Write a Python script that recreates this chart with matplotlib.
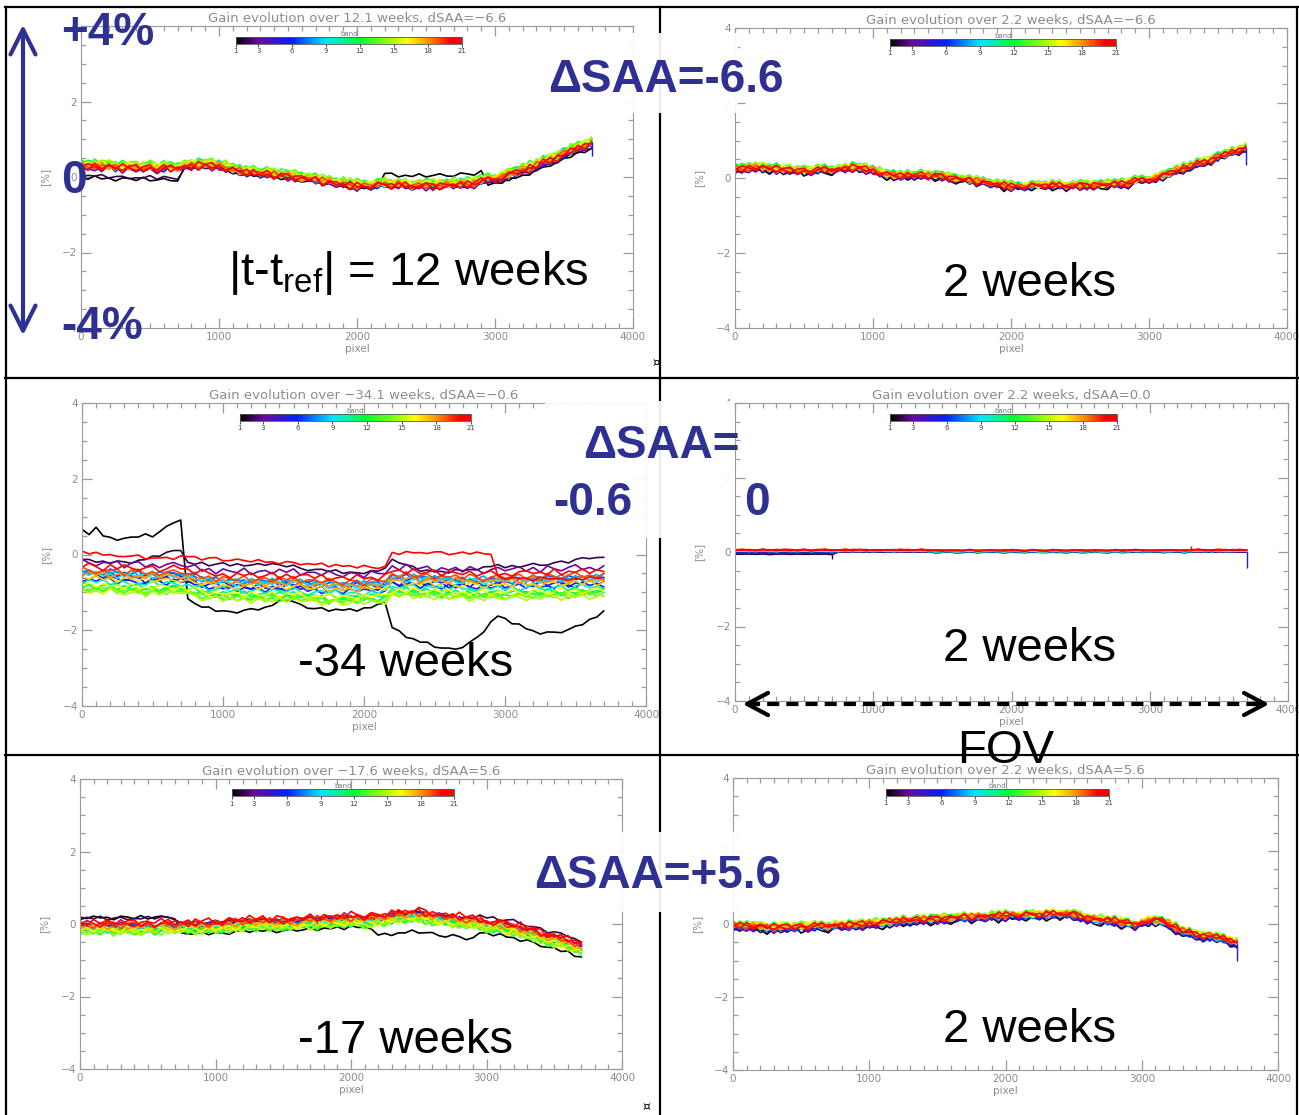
import numpy as np
import matplotlib.pyplot as plt
from matplotlib.colors import LinearSegmentedColormap, Normalize
from matplotlib.cm import ScalarMappable
from matplotlib.lines import Line2D
from matplotlib.patches import Rectangle, FancyArrowPatch
from matplotlib.ticker import MultipleLocator

plt.rcParams["font.family"] = ["DejaVu Sans"]
plt.rcParams["mathtext.fontset"] = "custom"
plt.rcParams["mathtext.rm"] = "Liberation Sans"

W, H = 1299, 1115

# detector pixel grid, one sample every 50 pixels
pixel = np.arange(0, 3701, 50)
bands = list(range(1, 22))
band_ticks = [1, 3, 6, 9, 12, 15, 18, 21]
segment_edges = [0, 750, 2200, 2950, 3750]

# small-scale pixel-to-pixel wiggle patterns (in units of the noise amplitude)
jitter_a = [0.3, -0.5, 0.8, -0.2, 0.1, -0.9, 0.6, 0.2, -0.4, 0.9, -0.7, 0.0, 0.5, -0.3, -0.8,
            0.7, 0.1, -0.2, 0.9, -0.6, 0.3, -0.1, -0.9, 0.4, 0.8, -0.5, 0.2, -0.3, 0.6, -0.8,
            0.1, 0.7, -0.4, 0.0, 0.9, -0.7, 0.3, -0.2, 0.5, -0.9, 0.8, -0.1, 0.2, -0.6, 0.4,
            0.7, -0.8, 0.1, -0.3, 0.9, -0.5, 0.0, 0.6, -0.4, -0.7, 0.8, 0.2, -0.9, 0.5, -0.1,
            0.3, -0.6, 0.9, -0.2, 0.1, -0.8, 0.7, 0.4, -0.5, 0.0, 0.6, -0.3, 0.8, -0.7, 0.2]
jitter_b = [-0.6, 0.4, -0.1, 0.9, -0.8, 0.2, 0.5, -0.7, 0.0, -0.3, 0.8, -0.5, 0.6, 0.1, -0.9,
            0.3, -0.2, 0.7, -0.6, -0.1, 0.9, -0.4, 0.5, -0.8, 0.0, 0.6, -0.7, 0.4, 0.2, -0.5,
            0.8, -0.3, -0.9, 0.1, 0.6, -0.2, 0.9, -0.6, 0.3, 0.0, -0.7, 0.5, -0.4, 0.8, -0.1,
            -0.5, 0.2, 0.7, -0.9, 0.4, -0.1, 0.3, -0.8, 0.9, -0.2, 0.1, -0.6, 0.5, 0.0, 0.7,
            -0.4, 0.6, -0.8, 0.2, 0.9, -0.3, -0.6, 0.1, 0.5, -0.9, 0.4, 0.7, -0.2, 0.0, -0.5]
jitter_c = [0.9, -0.2, -0.7, 0.4, 0.0, 0.6, -0.9, 0.3, 0.7, -0.5, 0.1, -0.8, 0.2, 0.5, -0.4,
            -0.1, 0.8, -0.6, 0.3, -0.9, 0.5, 0.0, -0.3, 0.9, -0.7, 0.2, 0.4, -0.5, 0.8, -0.2,
            0.6, -0.8, 0.1, 0.3, -0.4, 0.9, -0.1, -0.6, 0.5, 0.2, -0.9, 0.7, 0.0, -0.3, 0.4,
            -0.7, 0.9, -0.4, 0.1, 0.6, -0.8, 0.3, -0.2, 0.5, -0.6, 0.8, 0.0, -0.9, 0.2, 0.6,
            -0.3, 0.1, 0.7, -0.5, 0.4, -0.9, 0.8, -0.1, -0.6, 0.3, 0.9, -0.4, 0.2, -0.7, 0.5]
jitter_d = [-0.2, 0.7, 0.1, -0.8, 0.5, -0.4, 0.9, -0.1, -0.6, 0.3, 0.6, -0.9, 0.0, 0.8, -0.3,
            0.4, -0.7, 0.9, 0.1, -0.5, 0.2, -0.8, 0.6, -0.1, 0.7, -0.4, 0.0, 0.9, -0.6, 0.3,
            -0.9, 0.2, 0.5, -0.3, 0.8, -0.7, 0.0, 0.4, -0.5, 0.9, -0.2, 0.1, -0.8, 0.6, -0.1,
            0.3, -0.6, 0.8, -0.4, 0.0, 0.7, -0.9, 0.5, 0.1, -0.3, 0.6, -0.7, 0.2, 0.9, -0.5,
            0.0, -0.8, 0.4, 0.6, -0.2, 0.1, -0.5, 0.9, -0.7, 0.3, -0.1, 0.8, -0.4, 0.5, 0.0]

# ---- top row: dSAA = -6.6 ----
tl_base = [.28, .27, .28, .26, .27, .25, .24, .25, .23, .24, .24, .22, .23, .22, .24,
           .26, .28, .30, .31, .30, .28, .24, .19, .14, .12, .10, .08, .07, .05, .03,
           .02, .00, -.03, -.06, -.09, -.12, -.14, -.17, -.20, -.23, -.24, -.25, -.23, -.22, -.20,
           -.21, -.22, -.23, -.24, -.24, -.24, -.23, -.22, -.22, -.21, -.21, -.20, -.17, -.13, -.08,
           -.04, .00, .05, .11, .17, .23, .30, .37, .45, .52, .59, .67, .75, .82, .88]
tl_offsets = [-0.05, -0.05, -0.03, -0.02, 0.0, 0.0, 0.02, 0.03, 0.05, 0.06, 0.08,
              0.09, 0.10, 0.10, 0.08, 0.06, 0.04, 0.02, 0.01, 0.0, -0.01]
tl_shift = {1: [-0.25, 0.0, 0.32, -0.08], 2: [-0.2, 0.0, 0.0, -0.05]}
tl_spikes = [(5, 3700, 0.55)]

tr_base = [.24, .25, .26, .28, .28, .26, .24, .22, .21, .20, .19, .20, .21, .22, .22,
           .23, .25, .27, .27, .24, .20, .15, .10, .07, .06, .06, .07, .07, .06, .06,
           .05, .02, -.01, -.04, -.07, -.09, -.11, -.14, -.17, -.20, -.22, -.23, -.22, -.21, -.20,
           -.19, -.19, -.20, -.21, -.21, -.20, -.19, -.18, -.18, -.17, -.16, -.16, -.13, -.09, -.06,
           -.03, .01, .06, .12, .20, .26, .31, .37, .43, .49, .55, .61, .68, .74, .80]
tr_offsets = [-0.06, -0.05, -0.04, -0.03, -0.02, -0.01, 0.0, 0.02, 0.03, 0.04, 0.05,
              0.06, 0.06, 0.05, 0.04, 0.03, 0.02, 0.01, 0.0, 0.0, -0.01]
tr_spikes = [(5, 3700, 0.35)]

# ---- middle row: dSAA = -0.6 / 0.0 ----
ml_base = [-.62, -.60, -.63, -.65, -.62, -.64, -.66, -.65, -.66, -.68, -.66, -.67, -.68, -.66, -.65,
           -.72, -.75, -.78, -.80, -.82, -.83, -.84, -.85, -.85, -.86, -.87, -.86, -.86, -.87, -.85,
           -.84, -.86, -.88, -.90, -.91, -.92, -.92, -.93, -.93, -.92, -.92, -.91, -.90, -.88, -.74,
           -.74, -.75, -.76, -.77, -.77, -.78, -.78, -.79, -.79, -.80, -.80, -.80, -.81, -.82, -.80,
           -.80, -.79, -.79, -.79, -.78, -.78, -.78, -.77, -.77, -.77, -.76, -.76, -.76, -.75, -.75]
ml_offsets = [0.0, 0.0, 0.4, 0.1, 0.0, -0.05, 0.15, 0.15, 0.1, -0.1, -0.2,
              -0.25, -0.3, -0.3, -0.35, -0.2, 0.0, 0.1, 0.2, 0.3, 0.0]
ml_band1 = [0.65, 0.55, 0.68, 0.50, 0.45, 0.42, 0.40, 0.45, 0.48, 0.50, 0.50, 0.60, 0.72, 0.85, 0.95,
            -1.20, -1.30, -1.38, -1.43, -1.47, -1.50, -1.50, -1.50, -1.49, -1.47, -1.44, -1.40, -1.33, -1.25, -1.15,
            -1.25, -1.35, -1.40, -1.43, -1.45, -1.46, -1.46, -1.46, -1.46, -1.45, -1.45, -1.40, -1.32, -1.25, -1.95,
            -2.05, -2.15, -2.23, -2.30, -2.36, -2.42, -2.47, -2.50, -2.48, -2.42, -2.35, -2.20, -2.00, -1.80, -1.62,
            -1.70, -1.80, -1.88, -1.95, -2.02, -2.06, -2.08, -2.07, -2.04, -1.98, -1.92, -1.84, -1.75, -1.62, -1.50]
ml_band2 = [-0.10, -0.15, -0.20, -0.22, -0.20, -0.18, -0.22, -0.20, -0.15, -0.12, -0.08, -0.02, 0.03, 0.10, 0.15,
            -0.22, -0.25, -0.24, -0.27, -0.25, -0.26, -0.28, -0.27, -0.26, -0.28, -0.27, -0.25, -0.26, -0.28, -0.30,
            -0.32, -0.35, -0.38, -0.40, -0.42, -0.44, -0.45, -0.47, -0.48, -0.48, -0.47, -0.45, -0.42, -0.40, -0.12,
            -0.20, -0.28, -0.35, -0.40, -0.43, -0.45, -0.46, -0.45, -0.44, -0.42, -0.40, -0.38, -0.35, -0.32, -0.30,
            -0.33, -0.32, -0.30, -0.30, -0.28, -0.27, -0.25, -0.22, -0.20, -0.18, -0.15, -0.12, -0.10, -0.08, -0.05]
ml_band21 = [0.08, 0.05, 0.02, 0.00, -0.03, -0.05, -0.03, -0.06, -0.05, -0.08, -0.10, -0.08, -0.12, -0.10, -0.05,
             -0.05, -0.08, -0.10, -0.10, -0.12, -0.13, -0.14, -0.15, -0.16, -0.17, -0.18, -0.19, -0.20, -0.21, -0.22,
             -0.23, -0.24, -0.25, -0.26, -0.27, -0.28, -0.29, -0.30, -0.31, -0.32, -0.33, -0.34, -0.35, -0.35, 0.05,
             0.04, 0.05, 0.06, 0.04, 0.05, 0.03, 0.05, 0.04, 0.03, 0.05, 0.04, 0.02, 0.03, 0.00, -0.60,
             -0.62, -0.60, -0.65, -0.63, -0.66, -0.64, -0.62, -0.65, -0.67, -0.64, -0.62, -0.66, -0.63, -0.60, -0.62]

mr_base = [.03, .04, .03, .03, .04, .03, .03, .04, .03, .03, .04, .03, .03, .04, .03,
           .03, .04, .03, .04, .03, .03, .04, .03, .03, .04, .03, .03, .04, .03, .02,
           .02, .03, .02, .02, .03, .02, .02, .03, .02, .02, .03, .02, .02, .03, .02,
           .02, .03, .02, .02, .03, .02, .02, .03, .02, .02, .03, .02, .03, .03, .02,
           .03, .03, .02, .03, .03, .02, .03, .04, .03, .03, .04, .03, .03, .04, .03]
mr_offsets = [-0.03, -0.03, -0.02, -0.02, -0.02, -0.01, -0.01, -0.01, 0.0, 0.0, 0.0,
              0.0, 0.0, 0.01, 0.01, 0.01, 0.01, 0.01, 0.02, 0.02, 0.02]
mr_shift = {1: [-0.06, 0, 0, 0], 2: [-0.05, 0, 0, 0], 3: [-0.04, 0, 0, 0],
            4: [-0.04, 0, 0, 0], 5: [-0.03, 0, 0, 0]}
mr_spikes = [(2, 700, -0.2), (5, 3700, -0.42), (21, 3300, 0.17)]

# ---- bottom row: dSAA = +5.6 ----
bl_base = [-.05, -.04, -.05, -.04, -.04, -.05, -.04, -.04, -.05, -.04, -.04, -.03, -.03, -.02, -.03,
           -.04, -.03, -.02, -.02, -.01, .00, .01, .02, .03, .04, .05, .07, .07, .06, .06,
           .06, .07, .08, .09, .10, .11, .12, .13, .14, .15, .16, .16, .15, .15, .17,
           .20, .23, .25, .27, .28, .28, .26, .23, .20, .18, .16, .14, .12, .09, .06,
           .04, .01, -.02, -.05, -.08, -.13, -.18, -.23, -.29, -.34, -.39, -.44, -.49, -.55, -.62]
bl_offsets = [0.0, 0.05, 0.0, -0.02, -0.04, -0.05, -0.06, -0.08, -0.10, -0.12, -0.14,
              -0.16, -0.17, -0.18, -0.16, -0.12, -0.06, -0.02, 0.02, 0.05, 0.08]
bl_shift = {1: [0.22, -0.25, -0.5, -0.3], 2: [0.15, 0.0, 0.0, 0.1]}

br_base = [-.04, -.04, -.05, -.06, -.07, -.08, -.09, -.08, -.08, -.07, -.07, -.06, -.06, -.05, -.05,
           -.04, -.04, -.03, -.01, .00, .02, .03, .05, .06, .08, .09, .10, .11, .13, .14,
           .15, .16, .17, .18, .19, .19, .20, .21, .22, .23, .24, .24, .25, .25, .26,
           .26, .27, .28, .28, .27, .26, .22, .17, .14, .12, .10, .09, .06, .02, -.06,
           .08, .10, .10, .09, -.01, -.10, -.19, -.24, -.28, -.31, -.34, -.37, -.40, -.45, -.52]
br_offsets = [-0.10, -0.08, -0.07, -0.06, -0.05, -0.04, -0.03, -0.02, -0.01, 0.0, 0.02,
              0.04, 0.05, 0.05, 0.04, 0.03, 0.02, 0.01, 0.0, 0.0, 0.0]
br_spikes = [(2, 700, -0.25), (5, 3700, -1.0)]

titles = ["Gain evolution over 12.1 weeks, dSAA=\u22126.6",
          "Gain evolution over 2.2 weeks, dSAA=\u22126.6",
          "Gain evolution over \u221234.1 weeks, dSAA=\u22120.6",
          "Gain evolution over 2.2 weeks, dSAA=0.0",
          "Gain evolution over \u221217.6 weeks, dSAA=5.6",
          "Gain evolution over 2.2 weeks, dSAA=5.6"]

# IDL-like rainbow with black at band 1
band_cmap = LinearSegmentedColormap.from_list("band", [
    (0.00, "#000000"), (0.10, "#6a0aa0"), (0.25, "#0020ff"), (0.40, "#00e8ff"),
    (0.55, "#00ff30"), (0.70, "#b0ff00"), (0.76, "#ffff00"), (0.86, "#ff8800"),
    (0.95, "#ff0000"), (1.00, "#ff0000")])
band_norm = Normalize(1, 21)

seg_index = np.searchsorted(segment_edges, pixel, side="right") - 1
jitter_sets = [np.array(j) for j in (jitter_a, jitter_b, jitter_c, jitter_d)]


def band_curves(base, offsets, amp, shift, override):
    curves = []
    for i, b in enumerate(bands):
        j = jitter_sets[i % 4]
        if (i // 4) % 2:
            j = j[::-1]
        if b in override:
            y = np.array(override[b]) + 0.5 * amp * j
        elif b in shift:
            # the darkest bands are smoother and sit on their own segment offsets
            y = np.array(base) + offsets[i] + 0.5 * amp * j + np.array(shift[b])[seg_index]
        else:
            y = np.array(base) + offsets[i] + amp * j
        curves.append(y)
    return curves


def panel_rect(l, t, r, b):
    return [l / W, 1 - b / H, (r - l) / W, (b - t) / H]


panels = [
    dict(rect=panel_rect(81, 26, 633, 328), base=tl_base, offsets=tl_offsets, amp=0.12,
         shift=tl_shift, override={}, spikes=tl_spikes),
    dict(rect=panel_rect(735, 28, 1287, 328), base=tr_base, offsets=tr_offsets, amp=0.11,
         shift={}, override={}, spikes=tr_spikes),
    dict(rect=panel_rect(82, 403, 646, 706), base=ml_base, offsets=ml_offsets, amp=0.1,
         shift={}, override={1: ml_band1, 2: ml_band2, 21: ml_band21}, spikes=[]),
    dict(rect=panel_rect(735, 403, 1288, 701), base=mr_base, offsets=mr_offsets, amp=0.02,
         shift=mr_shift, override={}, spikes=mr_spikes),
    dict(rect=panel_rect(80, 779, 622, 1069), base=bl_base, offsets=bl_offsets, amp=0.12,
         shift=bl_shift, override={}, spikes=[]),
    dict(rect=panel_rect(733, 778, 1278, 1070), base=br_base, offsets=br_offsets, amp=0.11,
         shift={}, override={}, spikes=br_spikes),
]

fig = plt.figure(figsize=(W / 100, H / 100), dpi=100)
grey = "#8c8c8c"

for p, title in zip(panels, titles):
    ax = fig.add_axes(p["rect"])
    curves = band_curves(p["base"], p["offsets"], p["amp"], p["shift"], p["override"])
    for b, y in zip(bands, curves):
        ax.plot(pixel, y, color=band_cmap(band_norm(b)), lw=1.2)
    for b, px, v in p["spikes"]:
        ax.vlines(px, curves[b - 1][px // 50], v, color=band_cmap(band_norm(b)), lw=1.0)

    ax.set_xlim(0, 4000)
    ax.set_ylim(-4, 4)
    ax.set_xticks([0, 1000, 2000, 3000, 4000])
    ax.set_yticks([-4, -2, 0, 2, 4])
    ax.xaxis.set_minor_locator(MultipleLocator(100))
    ax.yaxis.set_minor_locator(MultipleLocator(0.5))
    ax.tick_params(which="both", direction="in", top=True, right=True,
                   color="#9a9a9a", labelcolor=grey, labelsize=7.5, width=0.9)
    ax.tick_params(which="major", length=7, pad=3)
    ax.tick_params(which="minor", length=3.5)
    for s in ax.spines.values():
        s.set_color("#9a9a9a")
    ax.set_xlabel("pixel", fontsize=7.5, color=grey, labelpad=1)
    ax.set_ylabel("[%]", fontsize=7.5, color=grey, labelpad=8)
    ax.set_title(title, fontsize=9.5, color=grey, pad=3)

    cax = ax.inset_axes([0.28, 0.94, 0.41, 0.024])
    cb = fig.colorbar(ScalarMappable(norm=band_norm, cmap=band_cmap), cax=cax,
                      orientation="horizontal", ticks=band_ticks)
    cb.ax.tick_params(labelsize=5, length=2, color="#555", labelcolor="#444", pad=1)
    cb.outline.set_edgecolor("#555")
    cb.outline.set_linewidth(0.6)
    cax.set_title("band", fontsize=5, color="#777", pad=0.5)

# frames around the six plots
frame_kw = dict(transform=fig.transFigure, color="black", lw=1.6, zorder=5)
for y in (7, 378, 755):
    fig.add_artist(Line2D([5 / W, 1299 / W], [1 - y / H] * 2, **frame_kw))
for x in (6, 660, 1297):
    fig.add_artist(Line2D([x / W] * 2, [1 - 7 / H, 0], **frame_kw))

# white patches behind the dSAA labels
for l, t, r, b in [(540, 33, 738, 113), (545, 401, 733, 538), (528, 832, 790, 912)]:
    fig.add_artist(Rectangle((l / W, 1 - b / H), (r - l) / W, (b - t) / H,
                             transform=fig.transFigure, facecolor="white",
                             edgecolor="none", alpha=0.92, zorder=6))

navy = "#2E3192"


def ftext(x, y, s, **kw):
    fig.text(x / W, 1 - y / H, s, ha="left", va="baseline", zorder=7, **kw)


blue_kw = dict(color=navy, fontsize=33, fontweight="bold", family="Liberation Sans")
ftext(61, 45, "+4%", **blue_kw)
ftext(61, 193, "0", **blue_kw)
ftext(61, 339, "-4%", **blue_kw)
ftext(548, 92, "\u0394SAA=-6.6", **blue_kw)
ftext(583, 458, "\u0394SAA=", **blue_kw)
ftext(553, 515, "-0.6", **blue_kw)
ftext(744, 515, "0", **blue_kw)
ftext(534, 888, "\u0394SAA=+5.6", **blue_kw)

black_kw = dict(color="black", fontsize=34, family="Liberation Sans")
ftext(228, 285, "|t-t$_{\\mathrm{ref}}$| = 12 weeks", **black_kw)
ftext(943, 296, "2 weeks", **black_kw)
ftext(298, 676, "-34 weeks", **black_kw)
ftext(943, 661, "2 weeks", **black_kw)
ftext(298, 1053, "-17 weeks", **black_kw)
ftext(943, 1042, "2 weeks", **black_kw)
ftext(957, 763, "FOV", **black_kw)
ftext(652, 366, "\u00a4", color="black", fontsize=9)
ftext(642, 1110, "\u00a4", color="black", fontsize=9)

# vertical +-4 % range arrow
fig.add_artist(FancyArrowPatch((23 / W, 1 - 338 / H), (23 / W, 1 - 22 / H),
                               arrowstyle="<->,head_length=18,head_width=9",
                               transform=fig.transFigure, color=navy, lw=3,
                               mutation_scale=1, zorder=7))

# field-of-view arrow across the 0.0 panel
fy = 1 - 704 / H
fig.add_artist(Line2D([748 / W, 1262 / W], [fy, fy], transform=fig.transFigure,
                      color="black", lw=3, dashes=(2.9, 1.7), zorder=7))
for a, b in [(760, 740), (1250, 1272)]:
    fig.add_artist(FancyArrowPatch((a / W, fy), (b / W, fy),
                                   arrowstyle="->,head_length=15,head_width=8",
                                   transform=fig.transFigure, color="black", lw=3,
                                   mutation_scale=1, zorder=7))

fig.savefig("out.png", dpi=100)
